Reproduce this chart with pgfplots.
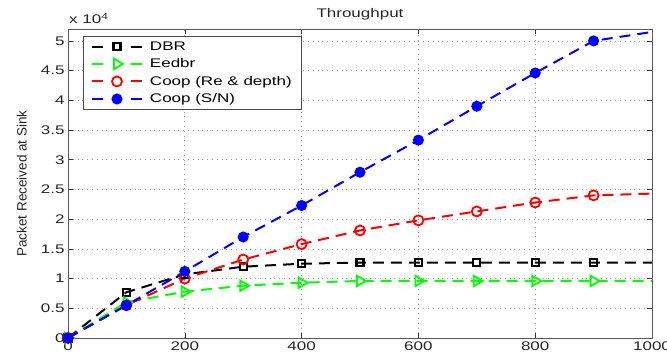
\documentclass[border=0pt]{standalone}
\usepackage{fontspec}
\setmainfont[FakeStretch=1.36]{Liberation Sans}
\newfontfamily\labfont{Liberation Sans}
\usepackage{pgfplots}
\pgfplotsset{compat=1.18}
\begin{document}
\begin{tikzpicture}
\begin{axis}[name=ax, scale only axis, width=584pt, height=309pt,
  xmin=0, xmax=1000, ymin=0, ymax=5.2,
  xtick={0,200,400,600,800,1000},
  xticklabels={0,200,400,600,800,1000},
  ytick={0,0.5,1,1.5,2,2.5,3,3.5,4,4.5,5},
  yticklabels={0,0.5,1,1.5,2,2.5,3,3.5,4,4.5,5},
  ticklabel style={font=\fontsize{12.5}{14}\selectfont, text=black!85},
  grid=major, grid style={dash pattern=on 0.8pt off 4pt, gray!80, line width=0.7pt},
  axis line style={gray!70!black, line width=0.8pt},
  tick style={black!80, line width=0.6pt}, tick align=inside,
  major tick length=5pt,
  title={Throughput}, title style={font=\fontsize{12.5}{14}\selectfont, yshift=-1pt, text=black!85},
  ylabel={Packet Received at Sink},
  ylabel style={font=\labfont\fontsize{13.5}{15}\selectfont, at={(rel axis cs:-0.079,0.5)}, anchor=center, text=black!85},
  legend style={at={(rel axis cs:0.025,0.977)}, anchor=north west, draw=gray!60!black, line width=0.8pt, font=\fontsize{12.5}{14}\selectfont, row sep=3pt, inner xsep=8pt, inner ysep=3pt},
  legend cell align=left,
  legend image code/.code={\draw[#1, mark=none, dash pattern=on 11pt off 28pt] (0pt,0pt)--(50pt,0pt); \draw[#1, dash pattern=] plot[only marks] coordinates {(25pt,0pt)}; \path (55pt,0pt);},
  every axis plot/.append style={line width=2pt, dash pattern=on 11pt off 7pt, mark indices={1,...,10}},
]
\addplot[black, mark=square, mark size=3.5pt, mark options={solid, line width=2.2pt}] coordinates {
(0,0)(100,0.77)(200,1.07)(300,1.2)(400,1.25)(500,1.27)(600,1.27)(700,1.27)(800,1.27)(900,1.27)(1000,1.27)};
\addlegendentry{DBR}
\addplot[green, mark=triangle, mark size=6pt, mark options={solid, rotate=-90, line width=1.8pt}] coordinates {
(0,0)(100,0.6)(200,0.78)(300,0.88)(400,0.93)(500,0.96)(600,0.96)(700,0.96)(800,0.96)(900,0.96)(1000,0.96)};
\addlegendentry{Eedbr}
\addplot[red, mark=o, mark size=5pt, mark options={solid, line width=1.8pt}] coordinates {
(0,0)(100,0.55)(200,1.0)(300,1.32)(400,1.58)(500,1.81)(600,1.98)(700,2.13)(800,2.28)(900,2.40)(1000,2.43)};
\addlegendentry{Coop (Re \& depth)}
\addplot[blue, mark=*, mark size=4.5pt, mark options={solid}] coordinates {
(0,0)(100,0.55)(200,1.12)(300,1.7)(400,2.23)(500,2.79)(600,3.33)(700,3.9)(800,4.46)(900,5.0)(1000,5.15)};
\addlegendentry{Coop (S/N)}
\end{axis}
\node[anchor=south west, font=\fontsize{12.5}{14}\selectfont, inner sep=1pt, yshift=4pt, text=black!85] at (ax.north west) {x 10\textsuperscript{4}};
\pgfresetboundingbox
\path[use as bounding box] ([xshift=-68pt,yshift=-20pt]ax.south west) rectangle ([xshift=15pt,yshift=29pt]ax.north east);
\end{tikzpicture}
\end{document}
